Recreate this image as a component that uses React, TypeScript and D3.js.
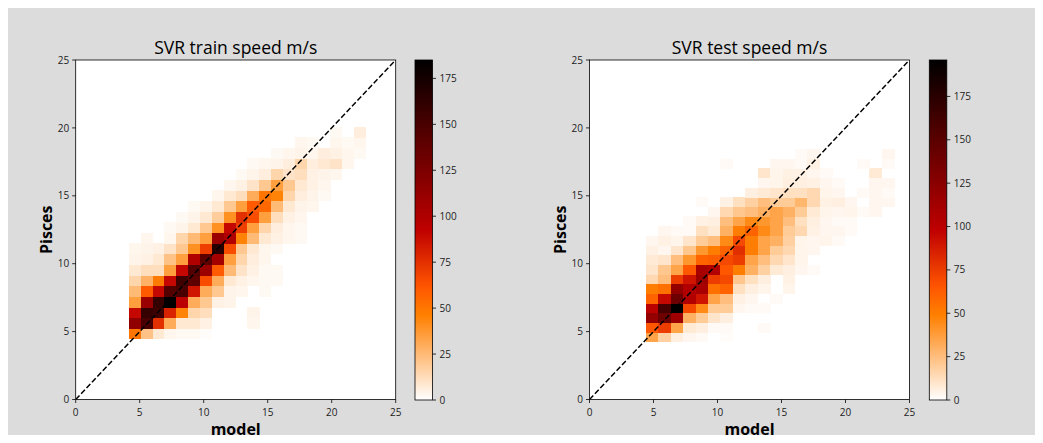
import React from "react";
import * as d3 from "d3";

const WIDTH = 1043;
const HEIGHT = 443;

const axisTicks = [0, 5, 10, 15, 20, 25];
const colorTicks = [0, 25, 50, 75, 100, 125, 150, 175];

// Bin extents of the 2D histograms (20 x 20 bins each)
const trainXRange = [4.16, 22.66];
const trainYRange = [4.45, 20.1];
const testXRange = [4.41, 23.81];
const testYRange = [4.25, 18.45];

// Counts per bin, first row = lowest Pisces bin, first column = lowest model bin
const trainCounts: number[][] = [
  [50, 22, 8, 3, 2, 2, 1, 0, 0, 0, 0, 0, 0, 0, 0, 0, 0, 0, 0, 0],
  [115, 150, 75, 30, 8, 8, 5, 0, 0, 0, 3, 0, 0, 0, 0, 0, 0, 0, 0, 0],
  [90, 160, 155, 80, 45, 15, 12, 0, 0, 0, 4, 0, 0, 0, 0, 0, 0, 0, 0, 0],
  [35, 110, 160, 185, 95, 30, 20, 5, 4, 0, 0, 0, 0, 0, 0, 0, 0, 0, 0, 0],
  [25, 60, 90, 145, 150, 85, 30, 20, 4, 3, 0, 2, 0, 0, 0, 0, 0, 0, 0, 0],
  [15, 28, 48, 90, 155, 140, 65, 30, 8, 5, 3, 2, 2, 0, 0, 0, 0, 0, 0, 0],
  [8, 12, 12, 35, 90, 145, 110, 60, 25, 10, 5, 2, 2, 0, 0, 0, 0, 0, 0, 0],
  [4, 5, 8, 22, 35, 100, 140, 105, 35, 15, 6, 3, 0, 0, 0, 0, 0, 0, 0, 0],
  [3, 4, 5, 10, 20, 40, 70, 165, 65, 20, 8, 3, 2, 0, 0, 0, 0, 0, 0, 0],
  [0, 3, 0, 3, 15, 25, 35, 110, 100, 45, 25, 8, 5, 3, 2, 0, 0, 0, 0, 0],
  [0, 0, 0, 2, 4, 8, 20, 40, 90, 70, 35, 15, 6, 3, 2, 0, 0, 0, 0, 0],
  [0, 0, 0, 0, 2, 4, 8, 18, 40, 75, 65, 35, 12, 5, 3, 0, 0, 0, 0, 0],
  [0, 0, 0, 0, 0, 2, 4, 8, 20, 35, 60, 55, 25, 8, 4, 3, 0, 0, 0, 0],
  [0, 0, 0, 0, 0, 0, 0, 3, 8, 12, 30, 50, 45, 15, 6, 4, 2, 0, 0, 0],
  [0, 0, 0, 0, 0, 0, 0, 0, 3, 5, 10, 20, 35, 20, 8, 5, 3, 0, 0, 0],
  [0, 0, 0, 0, 0, 0, 0, 0, 0, 2, 4, 6, 15, 10, 12, 5, 4, 3, 0, 0],
  [0, 0, 0, 0, 0, 0, 0, 0, 0, 0, 2, 3, 4, 6, 15, 6, 8, 10, 3, 0],
  [0, 0, 0, 0, 0, 0, 0, 0, 0, 0, 0, 0, 2, 3, 4, 3, 6, 5, 3, 2],
  [0, 0, 0, 0, 0, 0, 0, 0, 0, 0, 0, 0, 0, 0, 3, 2, 0, 3, 2, 3],
  [0, 0, 0, 0, 0, 0, 0, 0, 0, 0, 0, 0, 0, 0, 0, 0, 0, 2, 0, 6],
];

const testCounts: number[][] = [
  [35, 18, 6, 3, 2, 0, 1, 0, 0, 0, 0, 0, 0, 0, 0, 0, 0, 0, 0, 0],
  [65, 75, 35, 8, 6, 2, 2, 0, 0, 2, 0, 0, 0, 0, 0, 0, 0, 0, 0, 0],
  [120, 140, 115, 30, 20, 10, 6, 0, 0, 0, 0, 0, 0, 0, 0, 0, 0, 0, 0, 0],
  [100, 160, 196, 70, 45, 20, 20, 3, 2, 2, 0, 0, 0, 0, 0, 0, 0, 0, 0, 0],
  [60, 95, 140, 105, 90, 35, 25, 5, 3, 0, 2, 0, 0, 0, 0, 0, 0, 0, 0, 0],
  [50, 55, 120, 105, 110, 55, 60, 12, 6, 4, 0, 4, 0, 0, 0, 0, 0, 0, 0, 0],
  [15, 25, 75, 90, 115, 75, 70, 22, 12, 6, 0, 5, 0, 0, 0, 0, 0, 0, 0, 0],
  [10, 22, 35, 65, 110, 105, 65, 50, 30, 18, 8, 6, 3, 2, 0, 0, 0, 0, 0, 0],
  [8, 10, 25, 40, 60, 62, 70, 75, 35, 25, 15, 10, 4, 0, 0, 0, 0, 0, 0, 0],
  [5, 3, 10, 22, 40, 50, 60, 80, 50, 35, 20, 15, 4, 3, 0, 0, 0, 0, 0, 0],
  [3, 5, 4, 10, 20, 25, 45, 70, 50, 35, 30, 18, 4, 3, 4, 2, 0, 0, 0, 0],
  [0, 3, 2, 2, 12, 8, 30, 50, 60, 45, 35, 20, 15, 5, 3, 3, 2, 0, 0, 0],
  [0, 0, 0, 2, 5, 6, 25, 35, 45, 40, 35, 25, 12, 6, 3, 2, 2, 0, 0, 0],
  [0, 0, 0, 0, 0, 3, 15, 22, 25, 30, 35, 30, 20, 8, 4, 3, 4, 2, 3, 0],
  [0, 0, 0, 0, 2, 0, 5, 12, 18, 25, 20, 20, 28, 15, 5, 6, 3, 0, 3, 3],
  [0, 0, 0, 0, 0, 0, 0, 0, 6, 8, 10, 12, 12, 15, 4, 3, 0, 2, 3, 2],
  [0, 0, 0, 0, 0, 0, 0, 0, 0, 3, 4, 6, 6, 5, 3, 2, 0, 0, 3, 3],
  [0, 0, 0, 0, 0, 0, 0, 0, 0, 10, 4, 5, 5, 3, 2, 0, 0, 0, 8, 0],
  [0, 0, 0, 0, 0, 0, 2, 0, 0, 0, 3, 3, 2, 5, 0, 0, 0, 2, 0, 2],
  [0, 0, 0, 0, 0, 0, 0, 0, 0, 0, 0, 0, 2, 3, 0, 0, 0, 0, 0, 3],
];

// matplotlib "gist_heat_r"
function gistHeatR(t: number): string {
  const x = 1 - Math.max(0, Math.min(1, t));
  const r = Math.min(1, 1.5 * x);
  const g = Math.max(0, Math.min(1, 2 * x - 1));
  const b = Math.max(0, Math.min(1, 4 * x - 3));
  return d3.rgb(r * 255, g * 255, b * 255).formatHex();
}

const FONT = "'Open Sans', 'Noto Sans', 'DejaVu Sans', sans-serif";
const TEXT = "#222";

type PanelProps = {
  id: string;
  title: string;
  left: number;
  cbLeft: number;
  counts: number[][];
  xRange: number[];
  yRange: number[];
};

const TOP = 60;
const AX_W = 320;
const AX_H = 339.5;
const CB_W = 17.5;
const CB_H = 340;

function Panel({ id, title, left, cbLeft, counts, xRange, yRange }: PanelProps) {
  const x = d3.scaleLinear().domain([0, 25]).range([left, left + AX_W]);
  const y = d3.scaleLinear().domain([0, 25]).range([TOP + AX_H, TOP]);
  const nRows = counts.length;
  const nCols = counts[0].length;
  const xEdges = d3.range(nCols + 1).map((i) => xRange[0] + ((xRange[1] - xRange[0]) * i) / nCols);
  const yEdges = d3.range(nRows + 1).map((j) => yRange[0] + ((yRange[1] - yRange[0]) * j) / nRows);
  const vmax = d3.max(counts.flat()) as number;
  const c = d3.scaleLinear().domain([0, vmax]).range([0, 1]);
  const cbY = d3.scaleLinear().domain([0, vmax]).range([TOP + CB_H, TOP]);
  const stops = d3.range(0, 1.0001, 1 / 64);
  const gradId = `grad-${id}`;
  const clipId = `clip-${id}`;

  const cells: React.ReactNode[] = [];
  counts.forEach((row, j) =>
    row.forEach((v, i) => {
      if (v <= 0) return;
      const x0 = x(xEdges[i]);
      const x1 = x(xEdges[i + 1]);
      const y0 = y(yEdges[j + 1]);
      const y1 = y(yEdges[j]);
      cells.push(
        <rect
          key={`${i}-${j}`}
          x={x0}
          y={y0}
          width={x1 - x0 + 0.4}
          height={y1 - y0 + 0.4}
          fill={gistHeatR(c(v))}
          shapeRendering="crispEdges"
        />
      );
    })
  );

  const cx = left + AX_W / 2;

  return (
    <g>
      <defs>
        <linearGradient id={gradId} x1="0" y1="1" x2="0" y2="0">
          {stops.map((s) => (
            <stop key={s} offset={s} stopColor={gistHeatR(s)} />
          ))}
        </linearGradient>
        <clipPath id={clipId}>
          <rect x={left} y={TOP} width={AX_W} height={AX_H} />
        </clipPath>
      </defs>
      <rect x={left} y={TOP} width={AX_W} height={AX_H} fill="#fff" />
      <g clipPath={`url(#${clipId})`}>
        {cells}
        <line
          x1={x(0)}
          y1={y(0)}
          x2={x(25)}
          y2={y(25)}
          stroke="#000"
          strokeWidth={1.5}
          strokeDasharray="5.5,2.4"
        />
      </g>
      <rect x={left} y={TOP} width={AX_W} height={AX_H} fill="none" stroke="#000" strokeWidth={0.8} />
      {axisTicks.map((t) => (
        <g key={`x${t}`}>
          <line x1={x(t)} x2={x(t)} y1={TOP + AX_H} y2={TOP + AX_H + 3.5} stroke="#000" strokeWidth={0.8} />
          <text x={x(t)} y={TOP + AX_H + 16.5} textAnchor="middle" fontSize={10} fontFamily={FONT} fill={TEXT}>
            {t}
          </text>
        </g>
      ))}
      {axisTicks.map((t) => (
        <g key={`y${t}`}>
          <line x1={left - 3.5} x2={left} y1={y(t)} y2={y(t)} stroke="#000" strokeWidth={0.8} />
          <text x={left - 6.5} y={y(t) + 3.6} textAnchor="end" fontSize={10} fontFamily={FONT} fill={TEXT}>
            {t}
          </text>
        </g>
      ))}
      <text x={cx} y={54} textAnchor="middle" fontSize={17.5} fontFamily={FONT} fill="#000">
        {title}
      </text>
      <text x={cx} y={435} textAnchor="middle" fontSize={16} fontWeight="bold" fontFamily={FONT} fill="#000">
        model
      </text>
      <text
        transform={`translate(${left - 24}, ${TOP + AX_H / 2}) rotate(-90)`}
        textAnchor="middle"
        fontSize={16}
        fontWeight="bold"
        fontFamily={FONT}
        fill="#000"
      >
        Pisces
      </text>
      <rect x={cbLeft} y={TOP} width={CB_W} height={CB_H} fill={`url(#${gradId})`} />
      <rect x={cbLeft} y={TOP} width={CB_W} height={CB_H} fill="none" stroke="#000" strokeWidth={0.8} />
      {colorTicks.map((t) => (
        <g key={`c${t}`}>
          <line x1={cbLeft + CB_W} x2={cbLeft + CB_W + 3.5} y1={cbY(t)} y2={cbY(t)} stroke="#000" strokeWidth={0.8} />
          <text x={cbLeft + CB_W + 7} y={cbY(t) + 3.6} fontSize={10} fontFamily={FONT} fill={TEXT}>
            {t}
          </text>
        </g>
      ))}
    </g>
  );
}

export default function App() {
  return (
    <svg
      width={WIDTH}
      height={HEIGHT}
      style={{ position: "absolute", left: 0, top: 0, display: "block" }}
    >
      <rect x={8} y={8} width={WIDTH - 16} height={HEIGHT - 16} fill="#dcdcdc" />
      <Panel
        id="train"
        title="SVR train speed m/s"
        left={75.7}
        cbLeft={415}
        counts={trainCounts}
        xRange={trainXRange}
        yRange={trainYRange}
      />
      <Panel
        id="test"
        title="SVR test speed m/s"
        left={589.5}
        cbLeft={929.3}
        counts={testCounts}
        xRange={testXRange}
        yRange={testYRange}
      />
    </svg>
  );
}
